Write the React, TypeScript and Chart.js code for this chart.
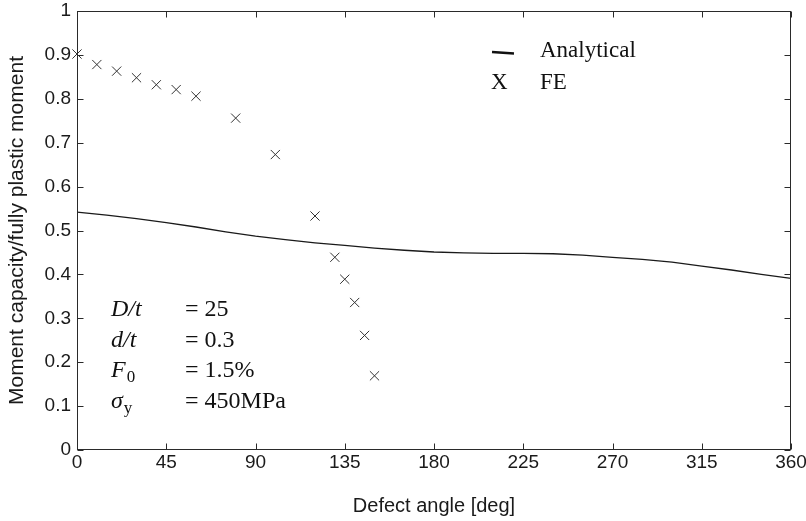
import React, { useEffect, useRef } from "react";
import { Chart, registerables } from "chart.js";

Chart.register(...registerables);

// ---- data ----
const xTickValues = [0, 45, 90, 135, 180, 225, 270, 315, 360];
const yTickValues = [0, 0.1, 0.2, 0.3, 0.4, 0.5, 0.6, 0.7, 0.8, 0.9, 1];

const feAngles = [0, 10, 20, 30, 40, 50, 60, 80, 100, 120, 130, 135, 140, 145, 150];
const feValues = [0.902, 0.878, 0.863, 0.848, 0.832, 0.821, 0.806, 0.756, 0.673, 0.533, 0.439, 0.389, 0.336, 0.261, 0.169];

const analyticalAngles = [0, 15, 30, 45, 60, 75, 90, 105, 120, 135, 150, 165, 180, 195, 210, 225, 240, 255, 270, 285, 300, 315, 330, 345, 360];
const analyticalValues = [0.542, 0.535, 0.527, 0.518, 0.508, 0.497, 0.487, 0.479, 0.472, 0.466, 0.46, 0.455, 0.451, 0.449, 0.448, 0.448, 0.447, 0.444, 0.439, 0.434, 0.428, 0.419, 0.41, 0.4, 0.391];

const xTitle = "Defect angle [deg]";
const yTitle = "Moment capacity/fully plastic moment";
const legendLabels = ["Analytical", "FE"];
const paramNames = [
  { main: "D/t", sub: "" },
  { main: "d/t", sub: "" },
  { main: "F", sub: "0" },
  { main: "\u03C3", sub: "y" },
];
const paramValues = ["= 25", "= 0.3", "= 1.5%", "= 450MPa"];

const SANS = '"Liberation Sans", Arial, Helvetica, sans-serif';
const SERIF = '"Liberation Serif", "Times New Roman", "DejaVu Serif", serif';

const framePlugin = {
  id: "framePlugin",
  afterDraw(chart: any) {
    const { ctx, chartArea: a, scales } = chart;
    const x = scales.x;
    const y = scales.y;
    ctx.save();
    ctx.strokeStyle = "#2a2a2a";
    ctx.lineWidth = 1;
    const L = Math.round(a.left) + 0.5;
    const R = Math.round(a.right) - 0.5;
    const T = Math.round(a.top) + 0.5;
    const B = Math.round(a.bottom) - 0.5;
    ctx.strokeRect(L, T, R - L, B - T);
    const tl = 6;
    ctx.beginPath();
    xTickValues.forEach((v) => {
      const px = Math.round(x.getPixelForValue(v)) + 0.5;
      ctx.moveTo(px, B);
      ctx.lineTo(px, B - tl);
      ctx.moveTo(px, T);
      ctx.lineTo(px, T + tl);
    });
    yTickValues.forEach((v) => {
      const py = Math.round(y.getPixelForValue(v)) + 0.5;
      ctx.moveTo(L, py);
      ctx.lineTo(L + tl, py);
      ctx.moveTo(R, py);
      ctx.lineTo(R - tl, py);
    });
    ctx.stroke();

    // legend
    ctx.fillStyle = "#111";
    ctx.textBaseline = "alphabetic";
    ctx.textAlign = "left";
    ctx.font = `23px ${SERIF}`;
    ctx.beginPath();
    ctx.lineWidth = 2.5;
    ctx.strokeStyle = "#111";
    ctx.moveTo(492, 52);
    ctx.lineTo(514, 53.5);
    ctx.stroke();
    ctx.fillText(legendLabels[0], 540, 57);
    ctx.fillText("X", 491, 88.5);
    ctx.fillText(legendLabels[1], 540, 88.5);

    // parameters
    const baselines = [316, 346.5, 377, 407.5];
    paramNames.forEach((p, i) => {
      const by = baselines[i];
      ctx.font = `italic 24px ${SERIF}`;
      ctx.fillText(p.main, 111, by);
      if (p.sub) {
        const w = ctx.measureText(p.main).width;
        ctx.font = `17px ${SERIF}`;
        ctx.fillText(p.sub, 111 + w + 1, by + 5);
      }
      ctx.font = `24px ${SERIF}`;
      ctx.fillText(paramValues[i], 185, by);
    });
    ctx.restore();
  },
};

export default function App() {
  const ref = useRef<HTMLCanvasElement>(null);
  useEffect(() => {
    document.body.style.margin = "0";
    const canvas = ref.current!;
    const chart = new Chart(canvas, {
      type: "scatter",
      data: {
        datasets: [
          {
            label: legendLabels[0],
            data: analyticalAngles.map((a, i) => ({ x: a, y: analyticalValues[i] })),
            showLine: true,
            borderColor: "#1a1a1a",
            borderWidth: 1.3,
            pointRadius: 0,
            tension: 0,
          },
          {
            label: legendLabels[1],
            data: feAngles.map((a, i) => ({ x: a, y: feValues[i] })),
            showLine: false,
            pointStyle: "crossRot",
            pointRadius: 6.5,
            borderColor: "#333",
            borderWidth: 1,
            clip: false,
          } as any,
        ],
      },
      options: {
        animation: false,
        responsive: false,
        devicePixelRatio: 1,
        layout: { padding: { top: 11, right: 15, left: 0, bottom: 0 } },
        plugins: { legend: { display: false }, tooltip: { enabled: false } },
        scales: {
          x: {
            type: "linear",
            min: 0,
            max: 360,
            afterBuildTicks: (s: any) => {
              s.ticks = xTickValues.map((v) => ({ value: v }));
            },
            afterFit: (s: any) => {
              s.height = 71;
              s.paddingLeft = 0;
              s.paddingRight = 0;
            },
            grid: { display: false, drawTicks: false },
            border: { display: false },
            ticks: {
              color: "#1a1a1a",
              font: { family: SANS, size: 19, lineHeight: 1 },
              padding: 3,
              maxRotation: 0,
              autoSkip: false,
              callback: (v: any) => String(v),
            },
            title: {
              display: true,
              text: xTitle,
              color: "#1a1a1a",
              font: { family: SANS, size: 20 },
              padding: { top: 0, bottom: 3 },
            },
          },
          y: {
            type: "linear",
            min: 0,
            max: 1,
            afterBuildTicks: (s: any) => {
              s.ticks = yTickValues.map((v) => ({ value: v }));
            },
            afterFit: (s: any) => {
              s.width = 77;
              s.paddingTop = 0;
              s.paddingBottom = 0;
            },
            grid: { display: false, drawTicks: false },
            border: { display: false },
            ticks: {
              color: "#1a1a1a",
              font: { family: SANS, size: 19, lineHeight: 1 },
              padding: 6,
              autoSkip: false,
              callback: (v: any) => String(v),
            },
            title: {
              display: true,
              text: yTitle,
              color: "#1a1a1a",
              font: { family: SANS, size: 21 },
              padding: { top: 5, bottom: 0 },
            },
          },
        },
      },
      plugins: [framePlugin],
    });
    return () => chart.destroy();
  }, []);
  return (
    <div style={{ width: 806, height: 521 }}>
      <canvas ref={ref} width={806} height={521} style={{ display: "block" }} />
    </div>
  );
}
